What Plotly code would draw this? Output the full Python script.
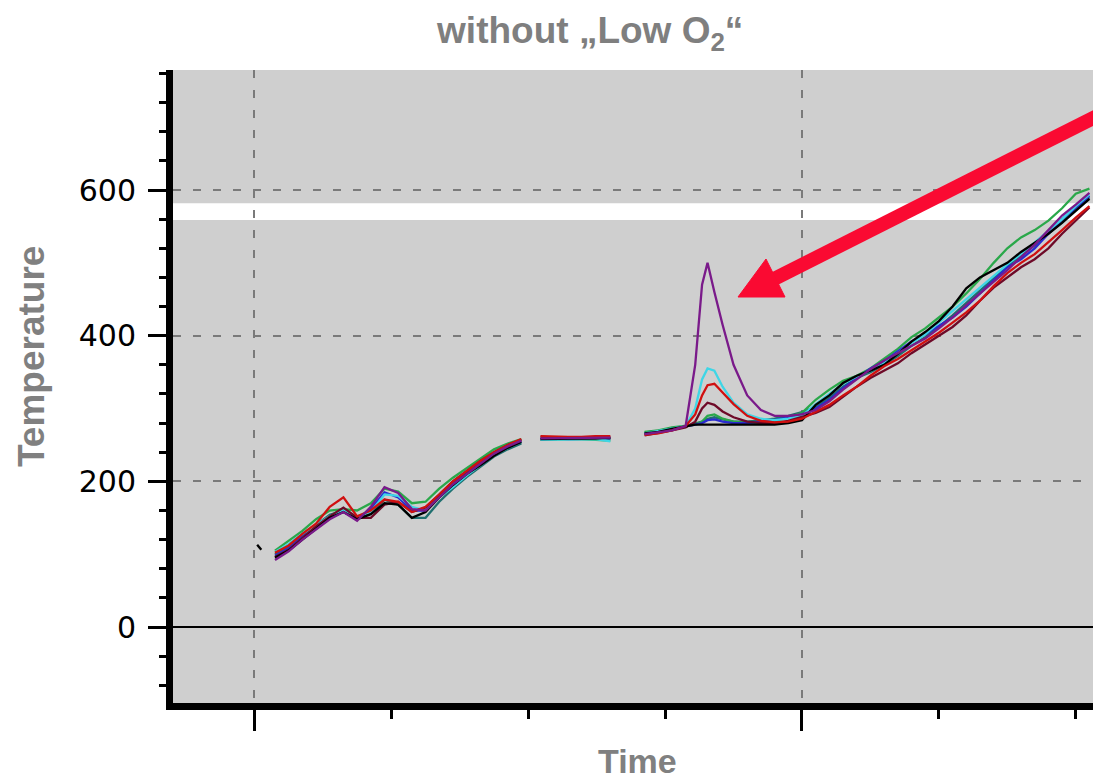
import plotly.graph_objects as go

# ---- data ----
# time axis: segment 1, gap, segment 2, gap, segment 3, segment 4
time = [0.15, 0.25, 0.35, 0.45, 0.55, 0.65, 0.75, 0.85, 0.95, 1.05, 1.15, 1.25, 1.35, 1.45, 1.55, 1.65, 1.75, 1.85, 1.95,
        2.02,
        2.09, 2.19, 2.29, 2.39, 2.49, 2.60,
        2.72,
        2.85, 2.95, 3.05, 3.15, 3.22, 3.27, 3.31, 3.36, 3.42, 3.50, 3.60, 3.70, 3.80, 3.90, 4.00,
        4.1, 4.2, 4.3, 4.4, 4.5, 4.6, 4.7, 4.8, 4.9, 5.0, 5.1, 5.2, 5.3, 5.4, 5.5, 5.6, 5.7, 5.8, 5.9, 6.0, 6.1]

N = None
temp_teal = [100, 110, 126, 140, 154, 160, 150, 156, 175, 168, 150, 150, 172, 190, 206, 220, 234, 244, 252, N,
             258, 258, 257, 258, 258, 258, N,
             267, 269, 272, 276, 279, 282, 286, 288, 285, 282, 282, 284, 286, 290, 295,
             302, 315, 330, 342, 350, 360, 372, 386, 398, 412, 428, 445, 462, 480, 496, 510, 524, 540, 556, 574, 590]
temp_green = [105, 118, 132, 148, 160, 162, 160, 170, 190, 186, 170, 172, 190, 205, 218, 232, 244, 252, 258, N,
              257, 258, 258, 258, 257, 256, N,
              268, 270, 274, 276, 278, 282, 290, 292, 286, 282, 280, 280, 282, 288, 294,
              312, 326, 338, 345, 355, 368, 382, 398, 410, 425, 440, 458, 478, 500, 520, 535, 545, 558, 575, 595, 602]
temp_blue = [98, 108, 124, 136, 150, 158, 148, 162, 185, 178, 160, 160, 180, 196, 212, 226, 238, 248, 255, N,
             258, 259, 258, 258, 258, 259, N,
             266, 268, 272, 275, 278, 280, 284, 285, 282, 280, 280, 282, 284, 288, 292,
             300, 312, 328, 342, 355, 365, 378, 392, 402, 414, 425, 440, 458, 476, 494, 505, 520, 540, 560, 576, 592]
temp_cyan = [103, 114, 128, 140, 152, 160, 152, 158, 182, 180, 165, 160, 178, 192, 208, 222, 236, 246, 254, N,
             257, 257, 258, 258, 258, 255, N,
             266, 269, 272, 276, 300, 340, 355, 352, 330, 308, 292, 286, 284, 286, 290,
             306, 320, 334, 344, 352, 362, 376, 390, 402, 418, 434, 450, 466, 482, 498, 512, 528, 545, 560, 578, 594]
temp_maroon = [96, 106, 122, 138, 152, 164, 150, 150, 168, 172, 158, 164, 182, 200, 214, 228, 240, 250, 257, N,
               261, 260, 260, 259, 259, 260, N,
               263, 266, 270, 274, 282, 300, 308, 305, 296, 288, 282, 280, 280, 283, 288,
               294, 302, 316, 330, 342, 352, 362, 376, 388, 400, 412, 428, 448, 466, 480, 494, 505, 520, 540, 558, 576]
temp_black = [95, 105, 120, 135, 150, 158, 148, 155, 170, 168, 150, 158, 178, 195, 210, 222, 235, 246, 254, N,
              258, 258, 258, 258, 259, 260, N,
              266, 268, 272, 276, 278, 278, 278, 278, 278, 278, 278, 278, 278, 280, 284,
              305, 318, 335, 345, 352, 360, 375, 392, 405, 420, 440, 465, 480, 490, 500, 515, 528, 540, 555, 572, 588]
temp_red = [102, 112, 128, 142, 165, 178, 152, 160, 175, 172, 158, 165, 182, 200, 214, 228, 240, 250, 258, N,
            262, 261, 261, 261, 262, 262, N,
            264, 266, 270, 276, 292, 318, 332, 334, 322, 306, 290, 283, 281, 282, 286,
            296, 305, 318, 330, 345, 358, 368, 380, 392, 404, 418, 432, 448, 468, 486, 500, 512, 528, 545, 562, 578]
temp_purple = [92, 104, 120, 134, 148, 158, 146, 165, 192, 184, 162, 160, 178, 196, 210, 224, 238, 248, 256, N,
               259, 259, 259, 259, 259, 260, N,
               265, 268, 270, 276, 360, 470, 500, 460, 415, 360, 318, 298, 290, 290, 292,
               298, 310, 326, 340, 354, 366, 376, 386, 396, 410, 425, 442, 458, 474, 490, 508, 525, 545, 565, 580, 596]

mark_time = [0.02, 0.05]
mark_temp = [113, 106]

series = [
    ("teal", temp_teal, "#1f6f6f"),
    ("green", temp_green, "#2aa84a"),
    ("blue", temp_blue, "#2a2ad0"),
    ("cyan", temp_cyan, "#3fd6e6"),
    ("maroon", temp_maroon, "#6e0a28"),
    ("black", temp_black, "#000000"),
    ("red", temp_red, "#d01010"),
    ("purple", temp_purple, "#7a1a8a"),
]

y_ticks = [0, 200, 400, 600]
y_labels = ["0", "200", "400", "600"]
band_low, band_high = 559, 582

fig = go.Figure()
for name, vals, col in series:
    fig.add_trace(go.Scatter(x=time, y=vals, mode="lines", name=name,
                             line=dict(color=col, width=2.3), connectgaps=False))
fig.add_trace(go.Scatter(x=mark_time, y=mark_temp, mode="lines", line=dict(color="#000", width=2.3)))

# white band
fig.add_shape(type="rect", xref="paper", yref="y", x0=0, x1=1, y0=band_low, y1=band_high,
              fillcolor="white", line=dict(width=0), layer="below")

# red arrow (paper coordinates)
L, R, T, B = 173, 1093, 70, 703
def px(x):
    return (x - L) / (R - L)
def py(y):
    return (B - y) / (B - T)
arrow_col = "#fa0a32"
fig.add_shape(type="line", xref="paper", yref="paper",
              x0=px(1105), y0=py(112), x1=px(772), y1=py(280),
              line=dict(color=arrow_col, width=14))
fig.add_shape(type="path", xref="paper", yref="paper",
              path=f"M {px(738)} {py(297)} L {px(766)} {py(259)} L {px(785)} {py(297)} Z",
              fillcolor=arrow_col, line=dict(color=arrow_col, width=1))

fig.add_annotation(text="<b>Temperature</b>", xref="paper", yref="paper",
                   x=px(31), y=py(357), xanchor="center", yanchor="middle",
                   textangle=-90, showarrow=False,
                   font=dict(family="Liberation Sans, Arial", size=37, color="#808080"))
fig.add_annotation(text="<b>Time</b>", xref="paper", yref="paper",
                   x=px(637), y=py(761), xanchor="center", yanchor="middle", showarrow=False,
                   font=dict(family="Liberation Sans, Arial", size=34, color="#808080"))

fig.update_layout(
    width=1093, height=784,
    margin=dict(l=L, r=1093 - R, t=T, b=784 - B),
    paper_bgcolor="white", plot_bgcolor="#cfcfcf",
    showlegend=False,
    title=dict(text="<b>without „Low O<sub>2</sub>“</b>", x=0.54, xanchor="center",
               y=1 - 30 / 784, yanchor="middle",
               font=dict(family="Liberation Sans, Arial", size=37, color="#7f7f7f")),
    font=dict(family="Liberation Sans, Arial"),
)
fig.update_xaxes(range=[-0.595, 6.126], tickvals=[0, 4], showticklabels=False,
                 showgrid=True, gridcolor="#7a7a7a", gridwidth=2, griddash="8px,12px",
                 zeroline=False, showline=True, linecolor="black", linewidth=7,
                 ticks="outside", ticklen=21, tickwidth=3, tickcolor="black",
                 minor=dict(tickvals=[1, 2, 3, 5, 6], ticks="outside", ticklen=9,
                            tickwidth=3, tickcolor="black", showgrid=False))
fig.update_yaxes(range=[-104.3, 764.8], tickvals=y_ticks, ticktext=y_labels,
                 showgrid=True, gridcolor="#7a7a7a", gridwidth=2, griddash="8px,12px",
                 zeroline=True, zerolinecolor="black", zerolinewidth=2,
                 showline=True, linecolor="black", linewidth=7,
                 ticks="outside", ticklen=18, tickwidth=3, tickcolor="black",
                 ticklabelstandoff=6,
                 tickfont=dict(family="DejaVu Sans", size=30, color="black"),
                 minor=dict(dtick=40, tick0=0, ticks="outside", ticklen=7,
                            tickwidth=3, tickcolor="black", showgrid=False))

fig.write_html("out.html")
